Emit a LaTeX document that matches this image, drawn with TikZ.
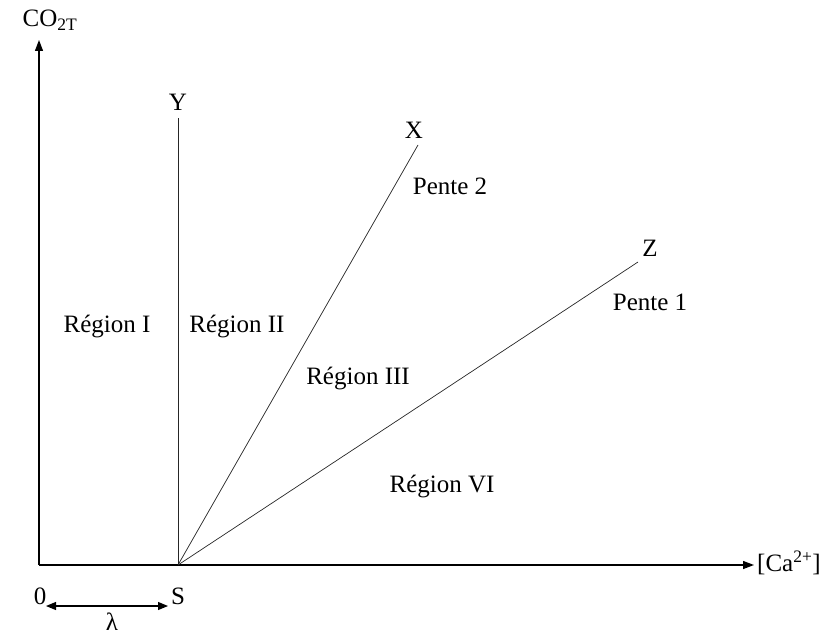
\documentclass[tikz,border=0pt]{standalone}
\usepackage{fontspec}
\setmainfont{Liberation Serif}
\usetikzlibrary{arrows.meta}
\begin{document}
\begin{tikzpicture}[x=1pt,y=-1pt,
  lbl/.style={inner sep=0pt,font=\fontsize{25}{28}\selectfont},
  thin line/.style={line width=0.7pt,black!85},
  axis/.style={line width=1.3pt,-{Triangle[length=11pt,width=8pt]}}]
\useasboundingbox (0,0) rectangle (824,636);
\coordinate (O) at (39,565);
\coordinate (S) at (178,565);
\coordinate (ytip) at (39,40);
\coordinate (xtip) at (754,565);
\coordinate (Ytop) at (178,118);
\coordinate (Xtop) at (418,145);
\coordinate (Ztop) at (638,262);
\draw[axis] (O) -- (ytip);
\draw[axis] (O) -- (xtip);
\draw[thin line] (S) -- (Ytop);
\draw[thin line] (S) -- (Xtop);
\draw[thin line] (S) -- (Ztop);
\node[lbl] (co) at (50,20) {CO\textsubscript{2T}};
\node[lbl] (ca) at (789,563) {[Ca\textsuperscript{2+}]};
\node[lbl] (Y) at (178,102) {Y};
\node[lbl] (X) at (414,130) {X};
\node[lbl] (Z) at (650,248) {Z};
\node[lbl] (p2) at (450,186) {Pente 2};
\node[lbl] (p1) at (650,302) {Pente 1};
\node[lbl] (r1) at (107,327) {Région I};
\node[lbl] (r2) at (237,327) {Région II};
\node[lbl] (r3) at (358,379) {Région III};
\node[lbl] (r6) at (442,487) {Région VI};
\node[lbl] (zero) at (40,596) {0};
\node[lbl] (Slbl) at (178,596) {S};
\coordinate (la) at (46,606);
\coordinate (lb) at (168,606);
\draw[line width=1.1pt,{Triangle[length=10pt,width=8pt]}-{Triangle[length=10pt,width=8pt]}] (la) -- (lb);
\node[lbl] (lam) at (112,622) {λ};
\end{tikzpicture}
\end{document}
